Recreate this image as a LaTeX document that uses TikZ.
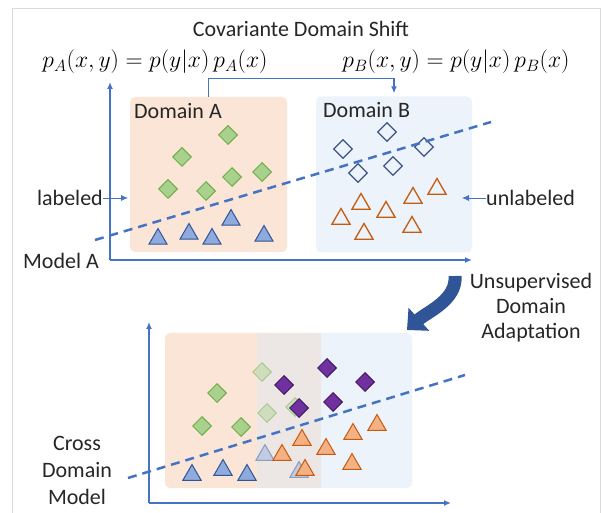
\documentclass[tikz,border=0pt]{standalone}
\usepackage{fontspec}
\setsansfont{Carlito}
\usetikzlibrary{arrows.meta,shapes.geometric}

\definecolor{axisblue}{HTML}{4472C4}
\definecolor{framegray}{HTML}{D9D9D9}
\definecolor{domAfill}{HTML}{FBE5D6}
\definecolor{domBfill}{HTML}{EDF3FA}
\definecolor{overlapfill}{HTML}{ECE7E4}
\definecolor{grnfill}{HTML}{A9D18E}
\definecolor{grnline}{HTML}{70AD47}
\definecolor{trifill}{HTML}{8FAADC}
\definecolor{triline}{HTML}{2F5597}
\definecolor{diaout}{HTML}{3B5488}
\definecolor{orgline}{HTML}{C55A11}
\definecolor{orgfill}{HTML}{F4B183}
\definecolor{purfill}{HTML}{7030A0}
\definecolor{purline}{HTML}{3F1A5E}
\definecolor{bendblue}{HTML}{2F5597}

\tikzset{
	txt/.style={font=\sffamily\fontsize{22}{25}\selectfont, text=black!85, inner sep=0pt},
	mth/.style={font=\fontsize{20.74}{25}\selectfont, inner sep=0pt, scale=1.14, transform shape},
	axis/.style={draw=axisblue, line width=1.3pt, -{Latex[length=7pt,width=6pt]}},
	model/.style={draw=axisblue, line width=2.5pt, dash pattern=on 9pt off 6pt},
	dombox/.style={rectangle, rounded corners=5pt, inner sep=0pt},
	gdia/.style={diamond, aspect=1, minimum size=19pt, inner sep=0pt, fill=grnfill, draw=grnline, line width=1pt},
	odia/.style={diamond, aspect=1, minimum size=19pt, inner sep=0pt, draw=diaout, line width=1.3pt},
	pdia/.style={diamond, aspect=1, minimum size=19pt, inner sep=0pt, fill=purfill, draw=purline, line width=1pt},
	btri/.style={regular polygon, regular polygon sides=3, minimum size=21pt, inner sep=0pt, fill=trifill, draw=triline, line width=1pt},
	otri/.style={regular polygon, regular polygon sides=3, minimum size=21pt, inner sep=0pt, draw=orgline, line width=1.3pt},
	ftri/.style={regular polygon, regular polygon sides=3, minimum size=21pt, inner sep=0pt, fill=orgfill, draw=orgline, line width=1pt},
	faded/.style={opacity=0.45}
}

\begin{document}
\begin{tikzpicture}[x=1pt,y=-1pt]
	\useasboundingbox (0,0) rectangle (603,513);
	\draw[framegray] (12,513) -- (12,8) -- (600,8) -- (600,513);
	
	%%%%% TOP PANEL %%%%%
	\node[txt] (title) at (301,29) {Covariante Domain Shift};
	\node[mth] (pA) at (155,62) {$p_A(x,y) = p(y|x)\,p_A(x)$};
	\node[mth] (pB) at (456,62) {$p_B(x,y) = p(y|x)\,p_B(x)$};
	
	\node[dombox, fill=domAfill, minimum width=157pt, minimum height=155pt] (domA) at (208.5,174.5) {};
	\node[dombox, fill=domBfill, minimum width=156pt, minimum height=156pt] (domB) at (394,174.5) {};
	\node[txt, anchor=west] (nameA) at (134,111) {Domain A};
	\node[txt, anchor=west] (nameB) at (323,110) {Domain B};
	\draw[axis] (domA.north) -- ++(0,-18) -| ([yshift=3pt]domB.north);
	
	\coordinate (oA) at (110,260);
	\coordinate (yA) at (110,82);
	\coordinate (xA) at (472,260);
	\draw[axis] (oA) -- (yA);
	\draw[axis] (oA) -- (xA);
	
	% labeled source samples
	\node[gdia] (ga1) at (228,135) {};
	\node[gdia] (ga2) at (182,157) {};
	\node[gdia] (ga3) at (232,177) {};
	\node[gdia] (ga4) at (262,172) {};
	\node[gdia] (ga5) at (168,189) {};
	\node[gdia] (ga6) at (206,191) {};
	\node[btri] (ba1) at (158,239) {};
	\node[btri] (ba2) at (189,234) {};
	\node[btri] (ba3) at (212,239) {};
	\node[btri] (ba4) at (231,220) {};
	\node[btri] (ba5) at (264,236) {};
	
	% unlabeled target samples
	\node[odia] (db1) at (387,132) {};
	\node[odia] (db2) at (343,149) {};
	\node[odia] (db3) at (424,147) {};
	\node[odia] (db4) at (393,166) {};
	\node[odia] (db5) at (358,173) {};
	\node[otri] (tb1) at (437,189) {};
	\node[otri] (tb2) at (413,198) {};
	\node[otri] (tb3) at (361,204) {};
	\node[otri] (tb4) at (341,219) {};
	\node[otri] (tb5) at (386,212) {};
	\node[otri] (tb6) at (412,227) {};
	\node[otri] (tb7) at (364,234) {};
	
	\coordinate (mA1) at (95,240);
	\coordinate (mA2) at (491,122);
	\draw[model] (mA1) -- (mA2);
	
	\node[txt, anchor=east] (lab) at (103,198) {labeled};
	\coordinate (labtip) at (128,198);
	\draw[axis, line width=0.8pt] (lab.east) -- (labtip);
	\node[txt, anchor=west] (unlab) at (486,198) {unlabeled};
	\coordinate (unlabtip) at (462,198);
	\draw[axis, line width=0.8pt] (unlab.west) -- (unlabtip);
	\node[txt] (modelA) at (61,261) {Model A};
	
	%%%%% ADAPTATION %%%%%
	\node[txt, align=center] (uda) at (531,308) {Unsupervised\\Domain\\Adaptation};
	\coordinate (bendS) at (455,276);
	\coordinate (bendE) at (407,330);
	\draw[bendblue, line width=13pt, -{Triangle[length=16pt,width=30pt]}]
		(bendS) .. controls (457,300) and (427,312) .. (bendE);
	
	%%%%% BOTTOM PANEL %%%%%
	\node[dombox, fill=domAfill, minimum width=156pt, minimum height=155pt] (domC) at (243,410.5) {};
	\node[dombox, fill=domBfill, minimum width=155pt, minimum height=155pt] (domD) at (334.5,410.5) {};
	\node[rectangle, inner sep=0pt, fill=overlapfill, minimum width=64pt, minimum height=155pt] (domCD) at (289,410.5) {};
	
	\coordinate (oC) at (149,503);
	\coordinate (yC) at (149,322);
	\coordinate (xC) at (451,503);
	\draw[axis] (oC) -- (yC);
	\draw[axis] (oC) -- (xC);
	
	\node[gdia] (gc1) at (217,393) {};
	\node[gdia] (gc2) at (202,426) {};
	\node[gdia] (gc3) at (241,427) {};
	\node[gdia, faded] (gc4) at (262,372) {};
	\node[gdia, faded] (gc5) at (267,413) {};
	\node[gdia, faded] (gc6) at (295,407) {};
	\node[pdia] (pc1) at (284,385) {};
	\node[pdia] (pc2) at (327,368) {};
	\node[pdia] (pc3) at (365,382) {};
	\node[pdia] (pc4) at (299,408) {};
	\node[pdia] (pc5) at (333,402) {};
	
	\node[btri] (bc1) at (192,475) {};
	\node[btri] (bc2) at (223,470) {};
	\node[btri] (bc3) at (247,475) {};
	\node[btri, faded] (bc4) at (265,455) {};
	\node[btri, faded] (bc5) at (299,472) {};
	\node[ftri] (fc1) at (282,455) {};
	\node[ftri] (fc2) at (302,440) {};
	\node[ftri] (fc3) at (305,470) {};
	\node[ftri] (fc4) at (326,449) {};
	\node[ftri] (fc5) at (353,434) {};
	\node[ftri] (fc6) at (377,425) {};
	\node[ftri] (fc7) at (352,464) {};
	
	\coordinate (mC1) at (128,478);
	\coordinate (mC2) at (465,375);
	\draw[model] (mC1) -- (mC2);
	\node[txt, align=center, font=\sffamily\fontsize{22}{27}\selectfont] (cross) at (77,470) {Cross\\Domain\\Model};
\end{tikzpicture}
\end{document}
